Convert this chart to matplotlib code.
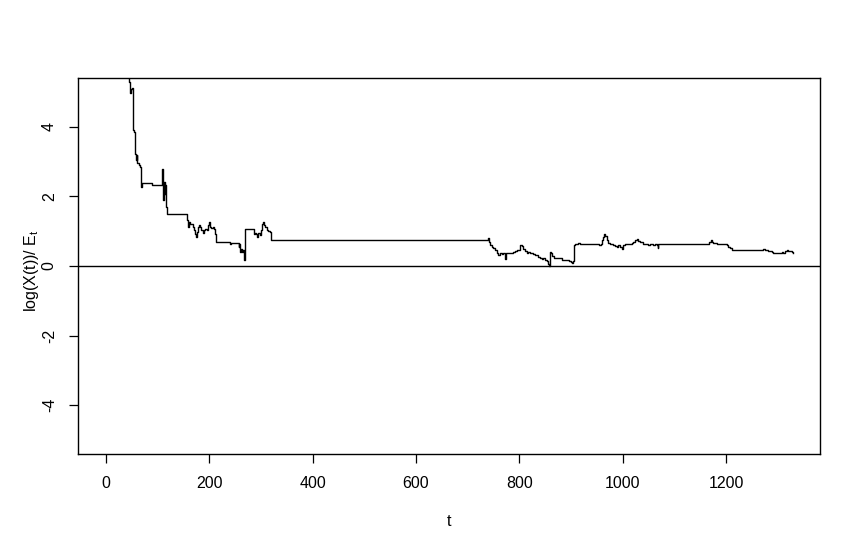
import matplotlib
matplotlib.use("Agg")
import matplotlib.pyplot as plt

plt.rcParams['font.family'] = ['Liberation Sans', 'DejaVu Sans']
plt.rcParams['mathtext.fontset'] = 'custom'
plt.rcParams['mathtext.rm'] = 'Liberation Sans'

# Time points (t) and values log(X(t))/E_t
t_vals = [
    40, 45, 45.8, 47.1, 49.1, 51, 52.3, 53.5, 55.5, 57.4, 59.3, 60.7, 63.2, 65.8, 67.1, 68.4,
    69, 90, 108.4, 109.6, 111, 112.3, 113.6, 114.9, 116.1, 117.4, 118.7,
    156.8, 158.7, 160.6, 162.6, 165.2, 168.4, 170.3, 172.2, 174.2, 176.1, 178.1, 180,
    182.6, 184.5, 187.1, 189.7, 192.2, 194.8, 197.4, 199.3, 201.3, 203.9, 206.5, 209,
    211.6, 213.5, 240.6, 242.6, 256.8, 258, 259.3, 261.3, 263.2, 265.1, 267.1, 268.4,
    285.8, 287.8, 289.7, 291.6, 293.6, 296.2, 298.8, 300.7, 302.6, 304.6, 306.5, 308.5,
    311.1, 313.5, 316.8, 318.7, 320,
    740, 741.8, 743.8, 746.5, 749.6, 752.9, 756.1, 759.3, 762.5, 765.7, 769, 772.2,
    774.2, 781.9, 785.2, 788.4, 791.6, 794.9, 801.2, 804.5, 807.7, 810.9, 814.2, 817.4,
    820.6, 827, 830.3, 836.7, 840, 843.2, 846.5, 849.7, 852.9, 856.2, 858.1, 859.3,
    861.2, 863.8, 867, 875.4, 881.9, 889.6, 892.9, 896.1, 899.3, 901.9, 904.5, 905.7,
    907.7, 911, 914.2, 917.4, 920.7, 923.9, 950.9, 954.8, 957.4, 959.4, 962.6, 964.5,
    966.5, 969, 972.2, 975.4, 978.7, 981.9, 985.1, 988.4, 991.6, 994.8, 998, 1001.3,
    1004.5, 1011, 1014.2, 1017.4, 1020.6, 1023.9, 1027.1, 1030.3, 1033.5, 1040, 1043.2,
    1049.7, 1052.9, 1056.1, 1059.3, 1062.5, 1065.8, 1067.7, 1069,
    1167.6, 1170.3, 1172.3, 1175.5, 1181.9, 1188.4, 1201.3, 1204.5, 1207.7, 1211,
    1214.2, 1220.7, 1223.9, 1227, 1272.2, 1275.4, 1278.7, 1281.9, 1288.3, 1291.6,
    1307.7, 1310.9, 1314.1, 1317.4, 1320.6, 1327.1, 1330.3,
]
y_vals = [
    6.5, 5.3, 5.06, 4.98, 5.1, 5.13, 3.9, 3.85, 3.23, 3.04, 3.19, 2.95, 2.9, 2.85, 2.66, 2.27,
    2.39, 2.33, 2.8, 2.47, 1.89, 2.41, 2.08, 2.32, 1.70, 1.6, 1.51,
    1.32, 1.12, 1.27, 1.2, 1.2, 1.12, 1.03, 0.93, 0.84, 0.98, 1.12, 1.17,
    1.12, 1.03, 0.95, 1.03, 1.07, 1.05, 1.17, 1.27, 1.12, 1.1, 1.12, 1.07,
    0.93, 0.69, 0.64, 0.66, 0.55, 0.64, 0.4, 0.5, 0.4, 0.45, 0.16, 1.06,
    0.93, 0.95, 0.93, 0.84, 0.95, 0.96, 0.88, 1.03, 1.22, 1.27, 1.17, 1.12,
    1.03, 1.01, 0.98, 0.88, 0.76,
    0.82, 0.69, 0.6, 0.55, 0.53, 0.47, 0.36, 0.33, 0.36, 0.34, 0.36, 0.21,
    0.36, 0.38, 0.36, 0.4, 0.43, 0.45, 0.59, 0.57, 0.5, 0.43, 0.38, 0.4,
    0.36, 0.34, 0.31, 0.26, 0.24, 0.21, 0.24, 0.18, 0.14, 0.07, 0.0, 0.4,
    0.36, 0.28, 0.24, 0.23, 0.18, 0.16, 0.18, 0.14, 0.12, 0.09, 0.14, 0.6,
    0.64, 0.62, 0.67, 0.64, 0.62, 0.64, 0.62, 0.6, 0.64, 0.76, 0.84, 0.91,
    0.85, 0.74, 0.66, 0.64, 0.62, 0.6, 0.57, 0.55, 0.6, 0.55, 0.5, 0.6,
    0.62, 0.64, 0.62, 0.67, 0.69, 0.76, 0.79, 0.72, 0.69, 0.64, 0.62,
    0.6, 0.62, 0.62, 0.6, 0.62, 0.6, 0.53, 0.64,
    0.69, 0.74, 0.69, 0.66, 0.64, 0.62, 0.6, 0.55, 0.53, 0.47,
    0.45, 0.47, 0.45, 0.47, 0.5, 0.45, 0.47, 0.43, 0.4, 0.38,
    0.4, 0.38, 0.43, 0.45, 0.43, 0.4, 0.38,
]

x_ticks = [0, 200, 400, 600, 800, 1000, 1200]
y_ticks = [-4, -2, 0, 2, 4]

fig = plt.figure(figsize=(8.61, 5.52), dpi=100)
ax = fig.add_axes([78.3 / 861, 1 - 454 / 552, (820 - 78.3) / 861, (454 - 78) / 552])

ax.plot(t_vals, y_vals, color='black', linewidth=1.0, drawstyle='steps-post')
ax.axhline(0, color='black', linewidth=1.0)

ax.set_xlim(-53.6, 1382)
ax.set_ylim(-5.41, 5.41)
ax.set_xticks(x_ticks)
ax.set_yticks(y_ticks)
ax.set_xticklabels([str(v) for v in x_ticks])
ax.set_yticklabels([str(v) for v in y_ticks], rotation=90, va='center')

for sp in ax.spines.values():
    sp.set_linewidth(1.0)
    sp.set_color('black')

ax.tick_params(axis='both', direction='out', length=6.5, width=0.9, labelsize=11.5,
               colors='black')
ax.tick_params(axis='x', pad=9)
ax.tick_params(axis='y', pad=9)

fig.text(0.5216, 1 - 521.7 / 552, 't', ha='center', va='center', fontsize=11.5)
fig.text(31.7 / 861, 1 - 271 / 552, r'log(X(t))/ E$_\mathrm{t}$', ha='center', va='center',
         rotation=90, fontsize=11.5)

fig.savefig('out.png', dpi=100)
